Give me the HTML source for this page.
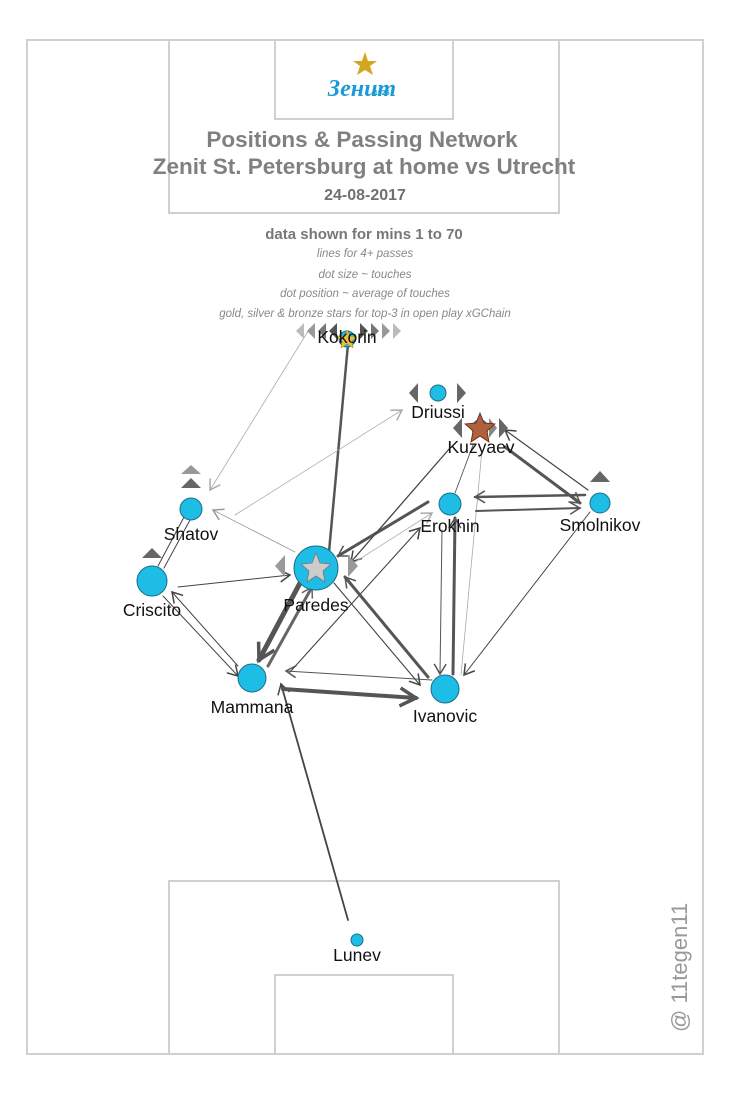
<!DOCTYPE html><html><head><meta charset="utf-8"><style>html,body{margin:0;padding:0;background:#fff}svg{display:block}</style></head><body>
<svg width="730" height="1095" viewBox="0 0 730 1095" xmlns="http://www.w3.org/2000/svg" font-family="Liberation Sans, Arial, sans-serif">
<defs>
<marker id="a" markerUnits="userSpaceOnUse" markerWidth="20" markerHeight="20" refX="12" refY="10" orient="auto"><polyline points="2,4 12,10 2,16" fill="none" stroke="context-stroke" stroke-width="1.5"/></marker>
<marker id="a2" markerUnits="userSpaceOnUse" markerWidth="28" markerHeight="28" refX="20" refY="14" orient="auto"><polyline points="4,5 20,14 4,23" fill="none" stroke="#555" stroke-width="3.5"/></marker>
</defs>
<rect x="27" y="40" width="676" height="1014" fill="none" stroke="#d0d0d0" stroke-width="2"/>
<rect x="169" y="40" width="390" height="173" fill="none" stroke="#d0d0d0" stroke-width="2"/>
<rect x="275" y="40" width="178" height="79" fill="none" stroke="#d0d0d0" stroke-width="2"/>
<rect x="169" y="881" width="390" height="173" fill="none" stroke="#d0d0d0" stroke-width="2"/>
<rect x="275" y="975" width="178" height="79" fill="none" stroke="#d0d0d0" stroke-width="2"/>
<polygon points="365,52 368,61 377,61 370,66 373,75 365,70 357,75 360,66 353,61 362,61" fill="#d4a520"/>
<text x="362" y="96" text-anchor="middle" font-size="24" font-style="italic" font-weight="bold" fill="#1b9ad6" font-family="Liberation Serif, serif">Зенит</text>
<text x="374" y="95" font-size="7" fill="#1b9ad6" font-weight="bold">1925</text>
<g fill="#808080" font-weight="bold" text-anchor="middle">
<text x="362" y="147" font-size="22.5">Positions &amp; Passing Network</text>
<text x="364" y="174" font-size="22.5">Zenit St. Petersburg at home vs Utrecht</text>
<text x="365" y="200" font-size="16" fill="#707070">24-08-2017</text>
<text x="364" y="239" font-size="15" fill="#777">data shown for mins 1 to 70</text>
</g>
<g fill="#888" font-style="italic" font-size="11.5" text-anchor="middle">
<text x="365" y="257">lines for 4+ passes</text>
<text x="365" y="278">dot size ~ touches</text>
<text x="365" y="297">dot position ~ average of touches</text>
<text x="365" y="317">gold, silver &amp; bronze stars for top-3 in open play xGChain</text>
</g>
<text transform="translate(687,1032) rotate(-90)" font-size="22" fill="#999">@ 11tegen11</text>
<g fill="none" stroke-linecap="round">
<line x1="329" y1="552" x2="349" y2="333" stroke="#555" stroke-width="2.5" marker-end="url(#a)"/>
<line x1="348" y1="920" x2="281" y2="684" stroke="#444" stroke-width="1.8" marker-end="url(#a)"/>
<line x1="283" y1="689" x2="416" y2="698" stroke="#555" stroke-width="4" marker-end="url(#a2)"/>
<line x1="432" y1="680" x2="286" y2="671" stroke="#555" stroke-width="1" marker-end="url(#a)"/>
<line x1="300" y1="583" x2="259" y2="660" stroke="#555" stroke-width="5" marker-end="url(#a2)"/>
<line x1="268" y1="666" x2="312" y2="587" stroke="#666" stroke-width="3" marker-end="url(#a)"/>
<line x1="178" y1="587" x2="290" y2="575" stroke="#444" stroke-width="1" marker-end="url(#a)"/>
<line x1="163" y1="596" x2="238" y2="676" stroke="#444" stroke-width="1" marker-end="url(#a)"/>
<line x1="238" y1="666" x2="172" y2="592" stroke="#444" stroke-width="1" marker-end="url(#a)"/>
<line x1="158" y1="566" x2="184" y2="517" stroke="#444" stroke-width="1"/>
<line x1="164" y1="568" x2="190" y2="520" stroke="#444" stroke-width="1"/>
<line x1="295" y1="552" x2="213" y2="510" stroke="#999" stroke-width="0.8" marker-end="url(#a)"/>
<line x1="310" y1="328" x2="210" y2="490" stroke="#aaa" stroke-width="0.8" marker-end="url(#a)"/>
<line x1="235" y1="515" x2="402" y2="410" stroke="#aaa" stroke-width="0.8" marker-end="url(#a)"/>
<line x1="428" y1="502" x2="338" y2="556" stroke="#555" stroke-width="3" marker-end="url(#a)"/>
<line x1="450" y1="448" x2="351" y2="562" stroke="#444" stroke-width="1.3" marker-end="url(#a)"/>
<line x1="355" y1="562" x2="432" y2="513" stroke="#aaa" stroke-width="0.8" marker-end="url(#a)"/>
<line x1="290" y1="672" x2="420" y2="528" stroke="#444" stroke-width="1.1" marker-end="url(#a)"/>
<line x1="334" y1="583" x2="420" y2="685" stroke="#444" stroke-width="1.1" marker-end="url(#a)"/>
<line x1="428" y1="677" x2="345" y2="577" stroke="#555" stroke-width="3" marker-end="url(#a)"/>
<line x1="442" y1="530" x2="440" y2="674" stroke="#555" stroke-width="1" marker-end="url(#a)"/>
<line x1="453" y1="674" x2="455" y2="518" stroke="#555" stroke-width="3" marker-end="url(#a)"/>
<line x1="473" y1="445" x2="455" y2="493" stroke="#555" stroke-width="0.9"/>
<line x1="482" y1="450" x2="461" y2="675" stroke="#aaa" stroke-width="0.8"/>
<line x1="585" y1="495" x2="475" y2="497" stroke="#555" stroke-width="2.5" marker-end="url(#a)"/>
<line x1="476" y1="511" x2="580" y2="508" stroke="#555" stroke-width="2" marker-end="url(#a)"/>
<line x1="505" y1="447" x2="580" y2="503" stroke="#555" stroke-width="3" marker-end="url(#a)"/>
<line x1="588" y1="490" x2="505" y2="430" stroke="#444" stroke-width="1.2" marker-end="url(#a)"/>
<line x1="590" y1="512" x2="464" y2="675" stroke="#444" stroke-width="1" marker-end="url(#a)"/>
</g>
<g fill="#666">
<polygon points="296,331 304,323 304,339" fill="#bbb"/><polygon points="307,331 315,323 315,339" fill="#999"/><polygon points="318,331 326,323 326,339" fill="#777"/><polygon points="329,331 337,323 337,339" fill="#555"/>
<polygon points="368,331 360,323 360,339" fill="#555"/><polygon points="379,331 371,323 371,339" fill="#777"/><polygon points="390,331 382,323 382,339" fill="#999"/><polygon points="401,331 393,323 393,339" fill="#bbb"/>
<polygon points="409,393 418,383 418,403"/><polygon points="466,393 457,383 457,403"/>
<polygon points="453,428 462,418 462,438"/><polygon points="508,428 499,418 499,438"/><polygon points="497,428 489,418 489,438" fill="#888"/>
<polygon points="191,465 181,474 201,474" fill="#999"/><polygon points="191,478 181,488 201,488"/>
<polygon points="152,548 142,558 162,558"/>
<polygon points="600,471 590,482 610,482"/>
<polygon points="275,566 285,555 285,577" fill="#999"/><polygon points="358,566 348,555 348,577" fill="#999"/>
</g>
<g fill="#1dbde6" stroke="#1a6f88" stroke-width="1">
<circle cx="347" cy="339" r="8"/><circle cx="438" cy="393" r="8"/><circle cx="480" cy="428" r="8"/>
<circle cx="191" cy="509" r="11"/><circle cx="600" cy="503" r="10"/><circle cx="450" cy="504" r="11"/>
<circle cx="152" cy="581" r="15"/><circle cx="316" cy="568" r="22"/><circle cx="252" cy="678" r="14"/>
<circle cx="445" cy="689" r="14"/><circle cx="357" cy="940" r="6"/>
</g>
<polygon points="347,330 350,336 357,337 352,341 353,348 347,344 341,348 342,341 337,337 344,336" fill="#e8c040" stroke="#a08020" stroke-width="0.5"/>
<polygon points="480,413 484,423 495,424 487,431 489,442 480,436 471,442 473,431 465,424 476,423" fill="#b0603a" stroke="#602010" stroke-width="0.8"/>
<polygon points="316,553 320,563 331,564 323,571 325,582 316,576 307,582 309,571 301,564 312,563" fill="#ccc" stroke="#777" stroke-width="0.8"/>
<g font-size="17.5" fill="#111" text-anchor="middle">
<text x="347" y="343">Kokorin</text><text x="438" y="418">Driussi</text><text x="481" y="453">Kuzyaev</text>
<text x="191" y="540">Shatov</text><text x="600" y="531">Smolnikov</text><text x="450" y="532">Erokhin</text>
<text x="152" y="616">Criscito</text><text x="316" y="611">Paredes</text><text x="252" y="713">Mammana</text>
<text x="445" y="722">Ivanovic</text><text x="357" y="961">Lunev</text>
</g>
</svg>
</body></html>
